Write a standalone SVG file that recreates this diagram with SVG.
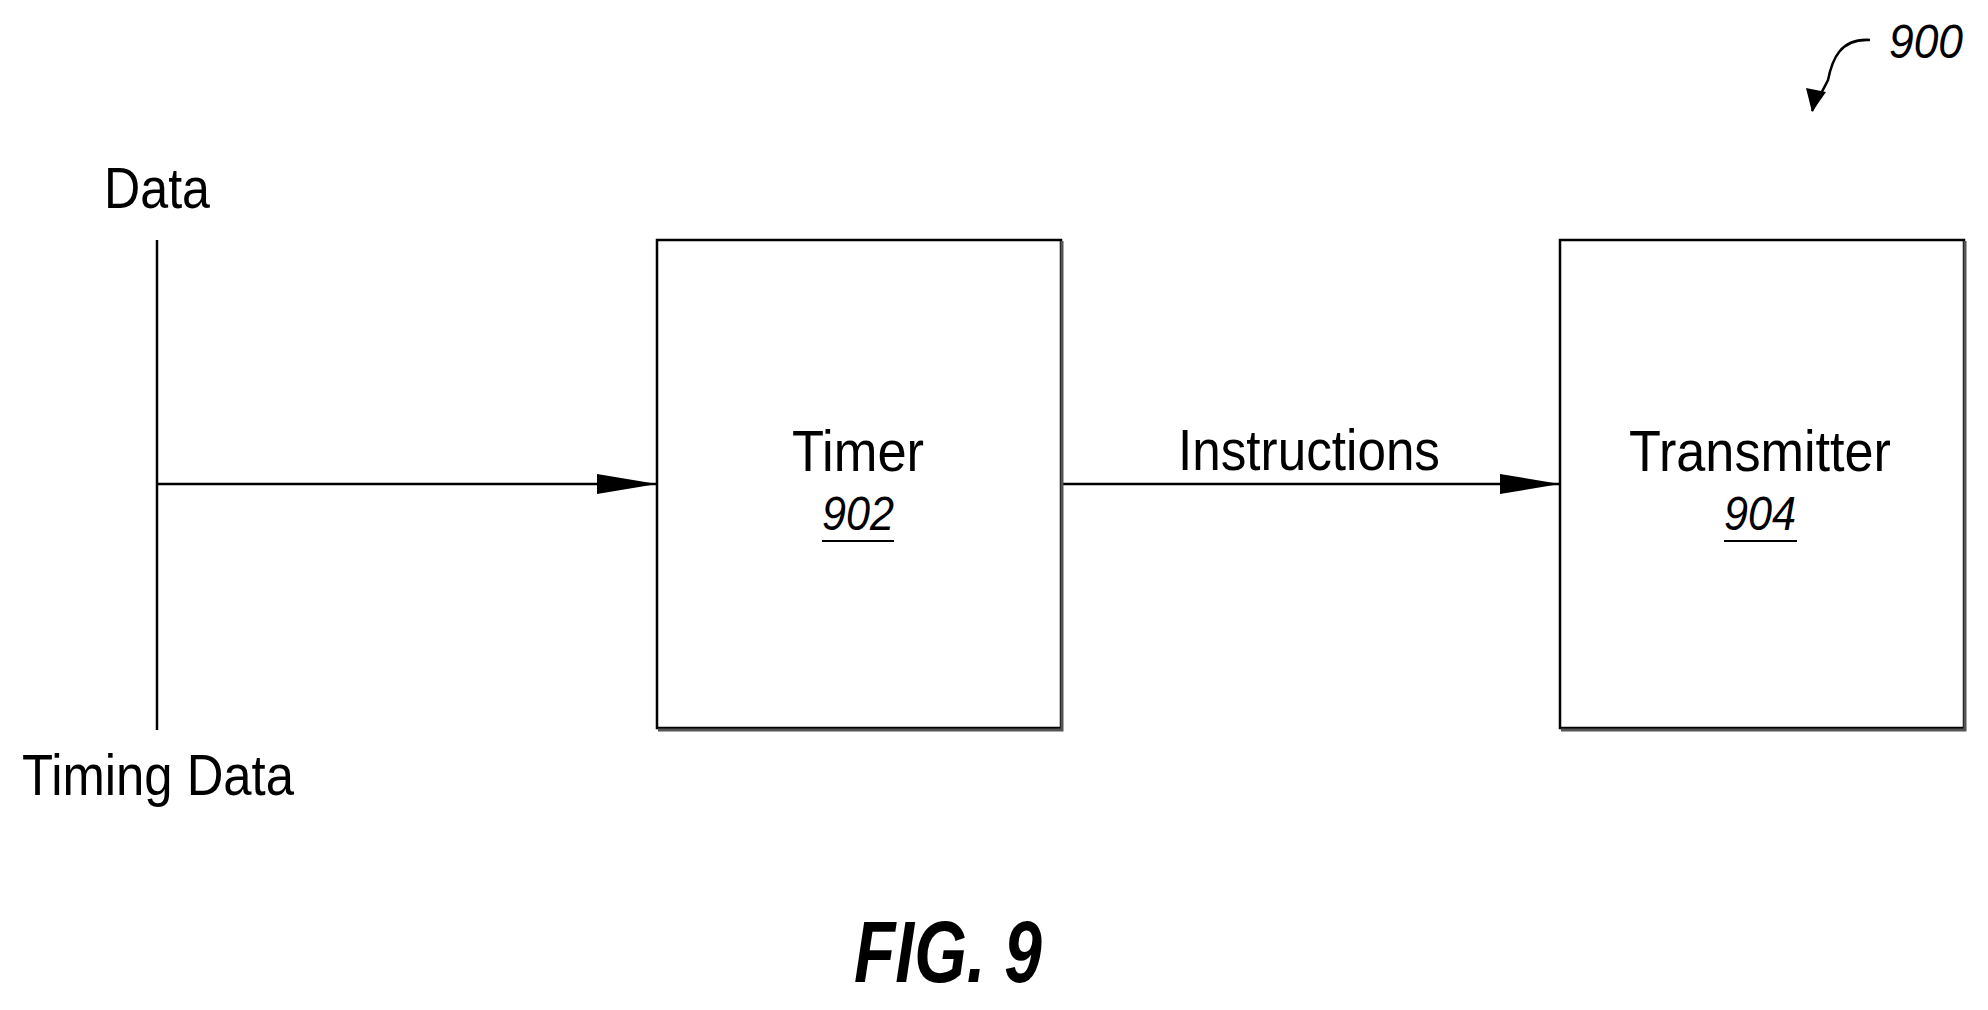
<svg xmlns="http://www.w3.org/2000/svg" width="1988" height="1010" viewBox="0 0 1988 1010">
<style>
text{font-family:"Liberation Sans",Arial,sans-serif;fill:#000}
.lbl{font-size:57px}
.ref{font-size:48px;font-style:italic}
.box{fill:#fff;stroke:#000;stroke-width:2.5}
.sh{stroke:#555;stroke-width:3;fill:none}
.ln{stroke:#000;stroke-width:2.5;fill:none}
</style>
<defs>
<marker id="ah" markerWidth="60" markerHeight="20" refX="60" refY="10" orient="auto" markerUnits="userSpaceOnUse">
<path d="M0,0 L60,10 L0,20 Z" fill="#000"/>
</marker>
</defs>
<g id="connectors">
<line class="ln" x1="157" y1="240" x2="157" y2="730"/>
<line class="ln" x1="157" y1="484" x2="657" y2="484" marker-end="url(#ah)"/>
<line class="ln" x1="1061" y1="484" x2="1560" y2="484" marker-end="url(#ah)"/>
<path class="ln" d="M1870,40 C1840,38 1832,60 1828,80 L1812,111" stroke-width="2"/>
<path d="M1806,88 L1812,112 L1826,92 Z" fill="#000"/>
</g>
<g id="data-label"><text class="lbl" x="157" y="208" text-anchor="middle" textLength="106" lengthAdjust="spacingAndGlyphs">Data</text></g>
<g id="timing-label"><text class="lbl" x="22" y="795" textLength="272" lengthAdjust="spacingAndGlyphs">Timing Data</text></g>
<g id="timer">
<rect class="box" x="657" y="240" width="404" height="488"/>
<path class="sh" d="M658,730 H1062 V241"/>
<text class="lbl" x="858" y="471" text-anchor="middle" textLength="132" lengthAdjust="spacingAndGlyphs">Timer</text>
<text class="ref" x="858" y="530" text-anchor="middle" textLength="72" lengthAdjust="spacingAndGlyphs">902</text>
<line x1="822" y1="541" x2="894" y2="541" stroke="#000" stroke-width="2"/>
</g>
<g id="instructions"><text class="lbl" x="1309" y="470" text-anchor="middle" textLength="262" lengthAdjust="spacingAndGlyphs">Instructions</text></g>
<g id="transmitter">
<rect class="box" x="1560" y="240" width="404" height="488"/>
<path class="sh" d="M1561,730 H1965 V241"/>
<text class="lbl" x="1760" y="471" text-anchor="middle" textLength="262" lengthAdjust="spacingAndGlyphs">Transmitter</text>
<text class="ref" x="1760" y="530" text-anchor="middle" textLength="72" lengthAdjust="spacingAndGlyphs">904</text>
<line x1="1724" y1="541" x2="1797" y2="541" stroke="#000" stroke-width="2"/>
</g>
<g id="ref900"><text class="ref" x="1889" y="58" textLength="74" lengthAdjust="spacingAndGlyphs">900</text></g>
<g id="caption"><text x="948" y="982" text-anchor="middle" font-size="88" font-weight="bold" font-style="italic" textLength="188" lengthAdjust="spacingAndGlyphs">FIG. 9</text></g>
</svg>
